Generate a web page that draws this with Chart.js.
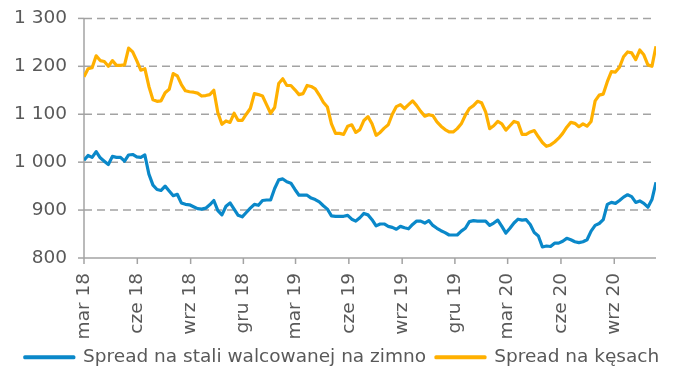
<!DOCTYPE html>
<html>
<head>
<meta charset="utf-8">
<script src="https://cdn.jsdelivr.net/npm/chart.js@4/dist/chart.umd.min.js"></script>
<style>
  html, body { margin: 0; padding: 0; background: #fff; }
  canvas { display: block; }
</style>
</head>
<body>
<canvas id="spreadChart" width="684" height="368"></canvas>
<script>
// Weekly series, first week starting 2018-03-01
const START_DATE = '2018-03-01';

const COLD_ROLLED = [
    1004, 1014, 1010, 1022, 1009, 1002, 995, 1012, 1010, 1010,
    1002, 1015, 1016, 1011, 1010, 1015, 975, 952, 943, 941,
    950, 940, 930, 933, 915, 912, 911, 907, 903, 902,
    904, 911, 920, 899, 890, 908, 915, 902, 889, 886,
    895, 904, 912, 910, 920, 921, 921, 945, 963, 965,
    959, 956, 943, 931, 931, 931, 925, 922, 917, 909,
    902, 888, 887, 887, 887, 889, 881, 877, 884, 893,
    890, 880, 867, 871, 871, 866, 864, 860, 866, 863,
    861, 870, 877, 877, 873, 878, 868, 862, 857, 853,
    848, 848, 848, 856, 862, 876, 878, 877, 877, 877,
    868, 873, 879, 866, 852, 862, 873, 881, 879, 880,
    870, 853, 846, 823, 825, 824, 831, 831, 835, 841,
    838, 834, 832, 834, 838, 856, 868, 872, 880, 912,
    916, 914, 920, 927, 932, 928, 916, 919, 914, 906,
    922, 958
];

const BILLETS = [
    1178, 1195, 1197, 1222, 1212, 1210, 1200, 1212, 1202, 1202,
    1203, 1238, 1230, 1212, 1192, 1195, 1158, 1130, 1127, 1128,
    1145, 1152, 1185, 1180, 1162, 1149, 1147, 1146, 1144, 1138,
    1139, 1141, 1150, 1103, 1079, 1086, 1083, 1102, 1087, 1087,
    1100, 1112, 1143, 1141, 1138, 1120, 1102, 1114, 1164, 1174,
    1160, 1160, 1151, 1141, 1143, 1160, 1158, 1153, 1140, 1125,
    1115, 1080, 1060, 1060, 1058, 1075, 1078, 1062, 1068, 1087,
    1095, 1080, 1056, 1062, 1071, 1078, 1100, 1116, 1120, 1112,
    1120, 1128, 1118, 1106, 1096, 1099, 1097, 1084, 1075, 1068,
    1063, 1063, 1070, 1080, 1098, 1112, 1118, 1127, 1124, 1105,
    1070, 1076, 1085, 1080, 1067, 1076, 1085, 1082, 1058, 1058,
    1063, 1066, 1053, 1041, 1033, 1036, 1042, 1050, 1060, 1073,
    1083, 1081, 1074, 1080, 1075, 1085, 1128, 1140, 1142, 1168,
    1189, 1188, 1198, 1220, 1230, 1228, 1214, 1234, 1224, 1203,
    1200, 1242
];

const TICK_DATES = [
    '2018-03-01', '2018-06-01', '2018-09-01', '2018-12-01',
    '2019-03-01', '2019-06-01', '2019-09-01', '2019-12-01',
    '2020-03-01', '2020-06-01', '2020-09-01'
];
const TICK_LABELS = [
    'mar 18', 'cze 18', 'wrz 18', 'gru 18',
    'mar 19', 'cze 19', 'wrz 19', 'gru 19',
    'mar 20', 'cze 20', 'wrz 20'
];

const SERIES_NAMES = ['Spread na stali walcowanej na zimno', 'Spread na kęsach'];
const COLORS = ['#0a88c9', '#ffb000'];
const GRID_COLOR = '#a3a3a3';
const TEXT_COLOR = '#595959';

Chart.defaults.font.family = "'DejaVu Sans', Verdana, sans-serif";
Chart.defaults.font.size = 18.5;
Chart.defaults.color = TEXT_COLOR;

const DAY = 86400000;
const dayOffset = s => (Date.parse(s) - Date.parse(START_DATE)) / DAY;
const toPoints = arr => arr.map((v, i) => ({ x: i * 7, y: v }));

// "1 300" style thousands separator
const formatValue = v => v >= 1000
    ? Math.floor(v / 1000) + ' ' + String(v % 1000).padStart(3, '0')
    : String(v);

const lineDataset = (label, values, color) => ({
    label,
    data: toPoints(values),
    borderColor: color,
    backgroundColor: color,
    borderWidth: 3.2,
    borderJoinStyle: 'round',
    pointRadius: 0,
    tension: 0
});

// Dashed value lines, axis lines and tick marks, placed from the scales
const axisLines = {
    id: 'axisLines',
    beforeDatasetsDraw(chart) {
        const { ctx, chartArea: { left, right, top, bottom }, scales: { x, y } } = chart;
        const seg = (x1, y1, x2, y2) => {
            ctx.beginPath();
            ctx.moveTo(x1, y1);
            ctx.lineTo(x2, y2);
            ctx.stroke();
        };
        ctx.save();
        ctx.strokeStyle = GRID_COLOR;
        ctx.lineWidth = 1.5;

        ctx.setLineDash([8, 5]);
        y.ticks.forEach(t => {
            if (t.value === y.min) return;
            const py = y.getPixelForValue(t.value);
            seg(left, py, right - 4, py);
        });

        ctx.setLineDash([]);
        seg(left, top, left, bottom);
        seg(left, bottom, right, bottom);
        y.ticks.forEach(t => {
            const py = y.getPixelForValue(t.value);
            seg(left - 6, py, left, py);
        });
        x.ticks.forEach(t => {
            const px = x.getPixelForValue(t.value);
            seg(px, bottom, px, bottom + 6);
        });
        ctx.restore();
    }
};

new Chart(document.getElementById('spreadChart'), {
    type: 'line',
    data: {
        datasets: [
            lineDataset(SERIES_NAMES[0], COLD_ROLLED, COLORS[0]),
            lineDataset(SERIES_NAMES[1], BILLETS, COLORS[1])
        ]
    },
    plugins: [axisLines],
    options: {
        responsive: false,
        animation: false,
        layout: { padding: { top: 8, left: 0, right: 0, bottom: -8.5 } },
        plugins: {
            tooltip: { enabled: false },
            legend: {
                position: 'bottom',
                labels: {
                    boxWidth: 49,
                    boxHeight: 1,
                    padding: 10
                }
            }
        },
        scales: {
            x: {
                type: 'linear',
                min: 0,
                max: (BILLETS.length - 1) * 7,
                afterBuildTicks: scale => {
                    scale.ticks = TICK_DATES.map(d => ({ value: dayOffset(d) }));
                },
                afterFit: scale => { scale.height = 80; },
                grid: {
                    drawOnChartArea: false,
                    tickLength: 6,
                    color: 'transparent'
                },
                border: { display: false },
                ticks: {
                    autoSkip: false,
                    minRotation: 90,
                    maxRotation: 90,
                    padding: 9,
                    callback: (v, i) => TICK_LABELS[i]
                }
            },
            y: {
                min: 800,
                max: 1300,
                afterFit: scale => { scale.width = 84; },
                grid: {
                    drawOnChartArea: false,
                    tickLength: 6,
                    color: 'transparent'
                },
                border: { display: false },
                ticks: {
                    stepSize: 100,
                    padding: 11,
                    font: { lineHeight: 0.8 },
                    callback: v => formatValue(v)
                }
            },
            // empty spacer on the right so the legend stays centred on the canvas
            spacer: {
                type: 'linear',
                position: 'right',
                grid: { display: false },
                border: { display: false },
                ticks: { display: false },
                afterFit: scale => { scale.width = 28; }
            }
        }
    }
});
</script>
</body>
</html>
